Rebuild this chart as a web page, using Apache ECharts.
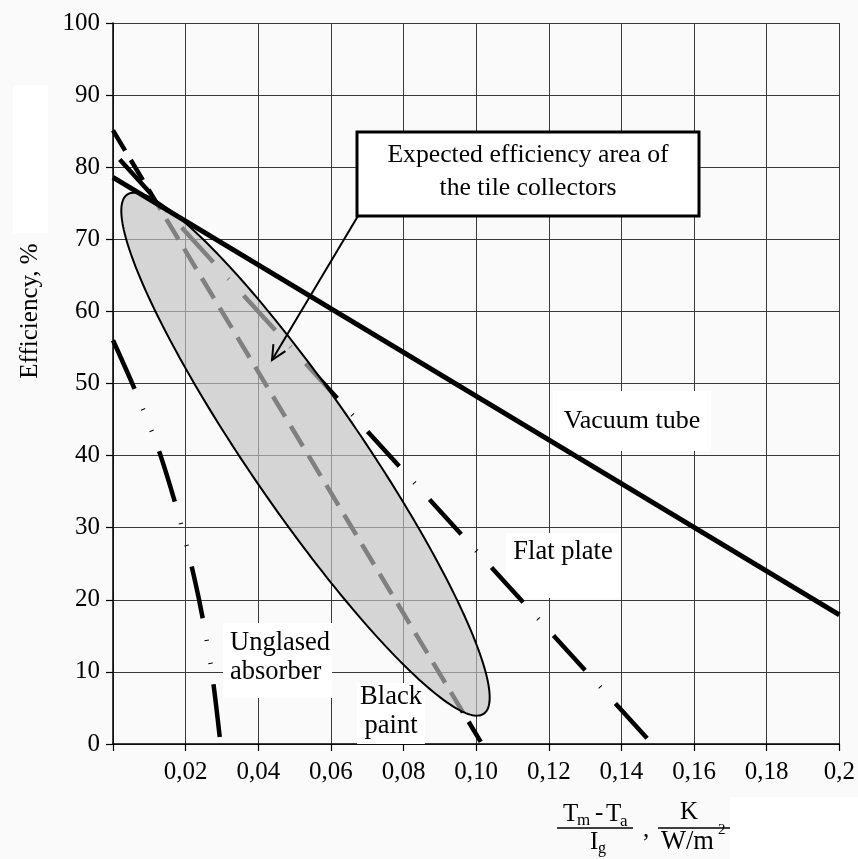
<!DOCTYPE html>
<html>
<head>
<meta charset="utf-8">
<script src="https://cdn.jsdelivr.net/npm/echarts@6/dist/echarts.min.js"></script>
<style>
html, body { margin: 0; padding: 0; background: #fafafa; }
#main { width: 858px; height: 859px; }
</style>
</head>
<body>
<div id="main"></div>
<script>
// x: (Tm - Ta) / Ig in K/(W/m2), y: efficiency in %
var xTickLabels = ['', '0,02', '0,04', '0,06', '0,08', '0,10', '0,12', '0,14', '0,16', '0,18', '0,2'];
var vacuumTube = [[0, 78.6], [0.2, 17.9]];
var flatPlate = [[0, 82.1], [0.1485, 0]];
var blackPaint = [[0, 85.1], [0.1016, 0]];
var unglasedAbsorber = [[0, 56.0], [0.0070, 48], [0.0131, 40], [0.0190, 30], [0.0237, 20], [0.0272, 10], [0.0296, 0]];
// expected area of the tile collectors (ellipse): centre, end of long axis, end of short axis
var areaCentre = [0.0530, 40.2];
var areaMajorEnd = [0.0039, 76.2];
var areaMinorEnd = [0.0657, 44.6];

var serif = '"Liberation Serif", "DejaVu Serif", serif';

function dashedLine(name, data, dash, offset, smooth) {
	return {
		name: name,
		type: 'line',
		data: data,
		symbol: 'none',
		silent: true,
		smooth: smooth || false,
		z: 2,
		lineStyle: { color: '#000', width: 4.5, type: dash, dashOffset: offset, cap: 'butt' }
	};
}

function arrowHead(sx, sy, tx, ty, len, ang) {
	var dx = sx - tx, dy = sy - ty;
	var d = Math.sqrt(dx * dx + dy * dy);
	dx /= d; dy /= d;
	var c = Math.cos(ang), s = Math.sin(ang);
	return [
		[tx + len * (dx * c - dy * s), ty + len * (dx * s + dy * c)],
		[tx, ty],
		[tx + len * (dx * c + dy * s), ty + len * (-dx * s + dy * c)]
	];
}

function txt(x, y, text, size, align, extra) {
	var el = {
		type: 'text', z: 1, x: x, y: y,
		style: { text: text, fontFamily: serif, fontSize: size, fill: '#000', align: align || 'left', verticalAlign: 'middle' }
	};
	for (var k in extra) el.style[k] = extra[k];
	return el;
}

var myChart = echarts.init(document.getElementById('main'), null, { renderer: 'canvas' });

var option = {
	animation: false,
	backgroundColor: '#fafafa',
	grid: { left: 113, right: 17, top: 23, bottom: 115 },
	xAxis: {
		type: 'value',
		min: 0,
		max: 0.2,
		interval: 0.02,
		axisLine: { lineStyle: { color: '#000', width: 1.5 } },
		axisTick: { show: true, length: 7, lineStyle: { color: '#000', width: 1.2 } },
		splitLine: { show: true, lineStyle: { color: '#3a3a3a', width: 1 } },
		axisLabel: {
			showMinLabel: true,
			showMaxLabel: true,
			margin: 16,
			color: '#000',
			fontFamily: serif,
			fontSize: 25,
			formatter: function (v) { return xTickLabels[Math.round(v / 0.02)]; }
		}
	},
	yAxis: {
		type: 'value',
		min: 0,
		max: 100,
		interval: 10,
		axisLine: { show: true, lineStyle: { color: '#000', width: 1.5 } },
		axisTick: { show: true, length: 7, lineStyle: { color: '#000', width: 1.2 } },
		splitLine: { show: true, lineStyle: { color: '#3a3a3a', width: 1 } },
		axisLabel: {
			showMinLabel: true,
			showMaxLabel: true,
			margin: 13,
			color: '#000',
			fontFamily: serif,
			fontSize: 25
		}
	},
	series: [
		dashedLine('Unglased absorber', unglasedAbsorber, [53, 22, 1, 22, 1, 21], 0, 0.3),
		dashedLine('Flat plate', flatPlate, [47, 22, 1, 22], 82),
		dashedLine('Black paint', blackPaint, [23.5, 11], 0),
		{
			name: 'Expected efficiency area',
			type: 'custom',
			z: 3,
			silent: true,
			data: [areaCentre.concat(areaMajorEnd, areaMinorEnd)],
			encode: { x: [0, 2, 4], y: [1, 3, 5] },
			renderItem: function (params, api) {
				var c = api.coord([api.value(0), api.value(1)]);
				var a = api.coord([api.value(2), api.value(3)]);
				var b = api.coord([api.value(4), api.value(5)]);
				var pts = [];
				for (var i = 0; i < 240; i++) {
					var t = i / 240 * Math.PI * 2;
					pts.push([
						c[0] + (a[0] - c[0]) * Math.cos(t) + (b[0] - c[0]) * Math.sin(t),
						c[1] + (a[1] - c[1]) * Math.cos(t) + (b[1] - c[1]) * Math.sin(t)
					]);
				}
				return {
					type: 'polygon',
					shape: { points: pts },
					style: { fill: 'rgba(195,195,195,0.66)', stroke: '#000', lineWidth: 2 }
				};
			}
		},
		{
			name: 'Vacuum tube',
			type: 'line',
			data: vacuumTube,
			symbol: 'none',
			silent: true,
			z: 4,
			lineStyle: { color: '#000', width: 5 }
		}
	],
	graphic: [
		{ type: 'rect', z: 0, shape: { x: 13, y: 85, width: 35, height: 148 }, style: { fill: '#fff' } },
		{ type: 'rect', z: 0, shape: { x: 730, y: 797, width: 128, height: 62 }, style: { fill: '#fff' } },
		{
			type: 'text', z: 1, x: 30, y: 311, rotation: Math.PI / 2,
			style: { text: 'Efficiency, %', fontFamily: serif, fontSize: 25, fill: '#000', align: 'center', verticalAlign: 'middle' }
		},
		txt(632, 421, 'Vacuum tube', 26, 'center', { backgroundColor: '#fff', padding: [17, 11] }),
		txt(563, 533, 'Flat plate', 26.5, 'center', { verticalAlign: 'top', backgroundColor: '#fff', padding: [6, 7, 32, 7] }),
		txt(223, 623, 'Unglased\nabsorber', 26.5, 'left', { verticalAlign: 'top', lineHeight: 29, backgroundColor: '#fff', padding: [6, 2, 11, 7] }),
		txt(391, 683, 'Black\npaint', 26.5, 'center', { verticalAlign: 'top', lineHeight: 29, backgroundColor: '#fff', padding: [0, 3, 3, 3] }),
		// callout
		{ type: 'rect', z: 10, shape: { x: 357, y: 132, width: 342, height: 84 }, style: { fill: '#fff', stroke: '#000', lineWidth: 3 } },
		{
			type: 'text', z: 11, x: 528, y: 172,
			style: { text: 'Expected efficiency area of\nthe tile collectors', fontFamily: serif, fontSize: 25.7, lineHeight: 33, fill: '#000', align: 'center', verticalAlign: 'middle' }
		},
		{ type: 'line', z: 10, shape: { x1: 358, y1: 216, x2: 272, y2: 360 }, style: { stroke: '#000', lineWidth: 2 } },
		{ type: 'polyline', z: 10, shape: { points: arrowHead(358, 216, 272, 360, 16, 0.45) }, style: { stroke: '#000', lineWidth: 2, fill: null } },
		// x axis title: (Tm - Ta) / Ig , K / (W/m2)
		txt(563, 814, 'T', 25),
		txt(577, 821, 'm', 17),
		txt(595, 813, '-', 25),
		txt(606, 814, 'T', 25),
		txt(620, 822, 'a', 17),
		{ type: 'line', z: 1, shape: { x1: 557, y1: 828, x2: 633, y2: 828 }, style: { stroke: '#000', lineWidth: 1.5 } },
		txt(590, 842, 'I', 25),
		txt(598, 849, 'g', 16),
		txt(643, 830, ',', 25),
		txt(689, 812, 'K', 25, 'center'),
		{ type: 'line', z: 1, shape: { x1: 658, y1: 828, x2: 730, y2: 828 }, style: { stroke: '#000', lineWidth: 1.5 } },
		txt(661, 842, 'W/m', 26.5),
		txt(718, 830, '2', 15)
	]
};

myChart.setOption(option);
</script>
</body>
</html>
